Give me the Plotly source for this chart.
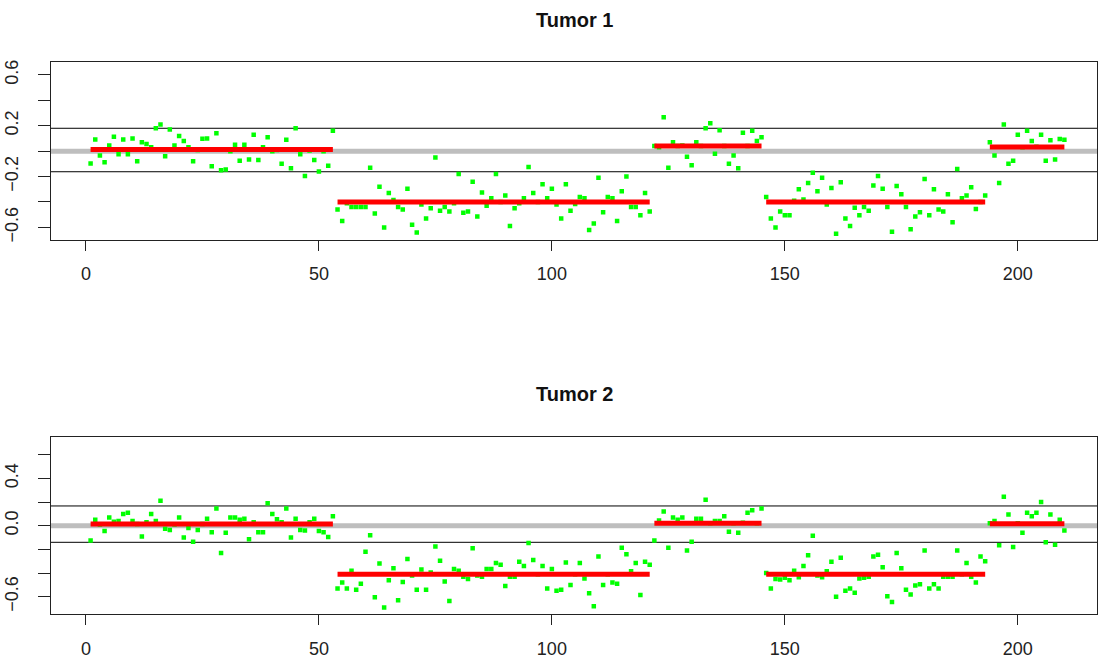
import plotly.graph_objects as go

W, H = 1098, 664

# ---------------- data ----------------
probe_index = list(range(1, 211))

tumor1_values = [
    -0.097, 0.092, -0.035, -0.087, 0.045, 0.113, -0.025, 0.092, -0.025, 0.10,
    -0.08, 0.07, 0.056, 0.03, 0.18, 0.21, -0.04, 0.17, 0.045, 0.12,
    0.08, 0.03, -0.08, 0.01, 0.097, 0.10, -0.118, 0.14, -0.15, -0.145,
    0.00, 0.05, -0.075, 0.05, -0.065, 0.13, -0.07, 0.03, 0.11, 0.00,
    0.01, -0.10, 0.09, -0.135, 0.18, -0.025, -0.195, 0.005, -0.07, -0.16,
    0.00, -0.115, 0.16, -0.46, -0.55, -0.41, -0.44, -0.44, -0.44, -0.44,
    -0.13, -0.49, -0.28, -0.60, -0.33, -0.385, -0.44, -0.46, -0.295, -0.58,
    -0.64, -0.42, -0.53, -0.45, -0.05, -0.47, -0.44, -0.475, -0.41, -0.18,
    -0.485, -0.475, -0.24, -0.515, -0.325, -0.43, -0.37, -0.18, -0.40, -0.35,
    -0.59, -0.45, -0.41, -0.37, -0.125, -0.33, -0.40, -0.26, -0.37, -0.295,
    -0.42, -0.53, -0.26, -0.47, -0.415, -0.36, -0.37, -0.62, -0.57, -0.21,
    -0.48, -0.36, -0.37, -0.55, -0.315, -0.20, -0.44, -0.44, -0.505, -0.33,
    -0.475, 0.04, 0.03, 0.266, -0.13, 0.07, 0.04, 0.045, -0.045, -0.11,
    0.07, 0.04, 0.18, 0.22, -0.02, 0.165, 0.04, -0.10, -0.035, -0.135,
    0.145, 0.04, 0.16, 0.08, 0.11, -0.36, -0.53, -0.60, -0.475, -0.505,
    -0.505, -0.39, -0.30, -0.38, -0.25, -0.17, -0.315, -0.21, -0.42, -0.29,
    -0.65, -0.245, -0.53, -0.59, -0.445, -0.505, -0.44, -0.47, -0.27, -0.195,
    -0.295, -0.44, -0.635, -0.275, -0.34, -0.44, -0.615, -0.515, -0.48, -0.22,
    -0.505, -0.30, -0.46, -0.475, -0.34, -0.56, -0.14, -0.37, -0.35, -0.285,
    -0.455, -0.40, -0.35, 0.07, -0.035, -0.25, 0.21, -0.10, -0.075, 0.13,
    0.03, 0.16, 0.08, 0.035, 0.13, -0.075, 0.085, -0.065, 0.095, 0.09,
]

tumor2_values = [
    -0.125, 0.05, 0.01, -0.045, 0.07, 0.033, 0.04, 0.10, 0.11, 0.04,
    0.015, -0.09, 0.03, 0.10, 0.04, 0.21, -0.025, -0.035, 0.01, 0.07,
    -0.10, -0.02, -0.135, -0.035, 0.015, 0.06, -0.055, 0.145, -0.23, -0.06,
    0.07, 0.07, 0.05, 0.06, -0.115, 0.03, -0.055, -0.055, 0.19, 0.10,
    0.055, 0.03, 0.145, -0.10, 0.06, -0.035, -0.04, 0.03, 0.06, -0.045,
    -0.055, -0.095, 0.08, -0.53, -0.48, -0.53, -0.38, -0.54, -0.49, -0.22,
    -0.08, -0.605, -0.32, -0.69, -0.46, -0.36, -0.63, -0.475, -0.28, -0.42,
    -0.54, -0.37, -0.54, -0.395, -0.175, -0.295, -0.47, -0.635, -0.365, -0.38,
    -0.43, -0.45, -0.19, -0.42, -0.43, -0.365, -0.365, -0.315, -0.33, -0.51,
    -0.43, -0.43, -0.305, -0.34, -0.145, -0.29, -0.41, -0.34, -0.53, -0.365,
    -0.55, -0.54, -0.31, -0.50, -0.41, -0.315, -0.445, -0.57, -0.68, -0.26,
    -0.50, -0.41, -0.48, -0.49, -0.185, -0.24, -0.385, -0.315, -0.585, -0.305,
    -0.33, -0.125, 0.045, 0.12, -0.185, 0.07, 0.05, 0.07, -0.21, -0.135,
    0.06, 0.06, 0.22, 0.02, 0.04, 0.04, 0.08, -0.05, 0.02, -0.06,
    0.025, 0.11, 0.13, 0.02, 0.145, -0.40, -0.53, -0.45, -0.455, -0.44,
    -0.46, -0.38, -0.435, -0.34, -0.25, -0.085, -0.42, -0.435, -0.385, -0.305,
    -0.60, -0.27, -0.55, -0.53, -0.565, -0.445, -0.44, -0.43, -0.26, -0.245,
    -0.35, -0.595, -0.645, -0.23, -0.36, -0.54, -0.58, -0.505, -0.495, -0.21,
    -0.53, -0.495, -0.53, -0.43, -0.43, -0.43, -0.21, -0.41, -0.315, -0.43,
    -0.48, -0.26, -0.30, 0.02, 0.04, -0.165, 0.245, 0.095, -0.18, 0.02,
    -0.06, 0.11, 0.08, 0.11, 0.20, -0.14, 0.095, -0.16, 0.05, -0.04,
]

segment_starts = [1, 54, 122, 146, 194]
segment_ends = [53, 121, 145, 193, 210]
tumor1_segment_means = [0.013, -0.40, 0.04, -0.40, 0.033]
tumor2_segment_means = [0.014, -0.41, 0.02, -0.41, 0.017]

tumor1_thresholds = [0.18, -0.162]
tumor2_thresholds = [0.167, -0.14]
baseline = 0.0

titles = ["Tumor 1", "Tumor 2"]
x_ticks = [0, 50, 100, 150, 200]
y_ticks = [-0.6, -0.4, -0.2, 0.0, 0.2, 0.4, 0.6]
tumor1_ytext = ["\u22120.6", "", "\u22120.2", "", "0.2", "", "0.6"]
tumor2_ytext = ["\u22120.6", "", "", "0.0", "", "0.4", ""]

# ---------------- layout geometry (pixels) ----------------
left_px, right_px = 51, 1097
panels_px = [(60, 239), (438, 617)]   # top, bottom
y_ranges = [[-0.698, 0.698], [-0.749, 0.749]]
x_range = [-7.5, 217.0]

FONT = "Liberation Sans, Arial, sans-serif"
GREEN = "#00FF00"
RED = "#FF0000"
GREY = "#BEBEBE"
AX = "#222222"

fig = go.Figure()
layout = dict(
    width=W, height=H,
    margin=dict(l=0, r=0, t=0, b=0),
    paper_bgcolor="white", plot_bgcolor="white",
    showlegend=False,
    font=dict(family=FONT, color=AX, size=18),
    shapes=[], annotations=[],
)

datasets = [
    (tumor1_values, tumor1_segment_means, tumor1_thresholds, tumor1_ytext),
    (tumor2_values, tumor2_segment_means, tumor2_thresholds, tumor2_ytext),
]

for k, (vals, means, thr, ytext) in enumerate(datasets):
    xa = "x" if k == 0 else "x2"
    ya = "y" if k == 0 else "y2"
    xkey = "xaxis" if k == 0 else "xaxis2"
    ykey = "yaxis" if k == 0 else "yaxis2"
    top, bot = panels_px[k]

    # probe points
    fig.add_trace(go.Scatter(
        x=probe_index, y=vals, mode="markers",
        marker=dict(symbol="square", size=4.5, color=GREEN, line=dict(width=0)),
        xaxis=xa, yaxis=ya, hoverinfo="skip",
    ))
    # segment means
    sx, sy = [], []
    for s, e, m in zip(segment_starts, segment_ends, means):
        sx += [s, e, None]
        sy += [m, m, None]
    fig.add_trace(go.Scatter(
        x=sx, y=sy, mode="lines",
        line=dict(color=RED, width=5),
        xaxis=xa, yaxis=ya, hoverinfo="skip",
    ))

    # reference lines
    layout["shapes"].append(dict(
        type="line", xref=f"{xa} domain", yref=ya, x0=0, x1=1,
        y0=baseline, y1=baseline, line=dict(color=GREY, width=5), layer="below"))
    for t in thr:
        layout["shapes"].append(dict(
            type="line", xref=f"{xa} domain", yref=ya, x0=0, x1=1,
            y0=t, y1=t, line=dict(color="black", width=1), layer="below"))

    layout[xkey] = dict(
        domain=[left_px / W, right_px / W], range=x_range, anchor=ya,
        showline=True, linecolor=AX, linewidth=1, mirror=True,
        showgrid=False, zeroline=False,
        tickmode="array", tickvals=x_ticks, ticks="outside", ticklen=10,
        tickcolor=AX, tickwidth=1, ticklabelstandoff=8,
        tickfont=dict(family=FONT, size=18, color=AX),
    )
    layout[ykey] = dict(
        domain=[1 - bot / H, 1 - top / H], range=y_ranges[k], anchor=xa,
        showline=True, linecolor=AX, linewidth=1, mirror=True,
        showgrid=False, zeroline=False,
        tickmode="array", tickvals=y_ticks, ticktext=ytext,
        ticks="outside", ticklen=12, tickcolor=AX, tickwidth=1,
        tickangle=-90, ticklabelstandoff=13,
        tickfont=dict(family=FONT, size=18, color=AX),
    )
    layout["annotations"].append(dict(
        text=f"<b>{titles[k]}</b>", xref="paper", yref="paper",
        x=(left_px + right_px) / 2 / W, y=1 - (top - 43) / H,
        xanchor="center", yanchor="middle", showarrow=False,
        font=dict(family=FONT, size=20, color="#111111"),
    ))

fig.update_layout(**layout)
fig.write_html("out.html")
